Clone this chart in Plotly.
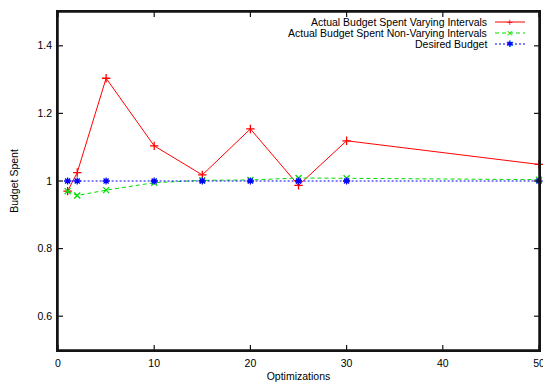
import plotly.graph_objects as go

optimizations = [1, 2, 5, 10, 15, 20, 25, 30, 50]
varying = [0.970, 1.025, 1.304, 1.104, 1.018, 1.154, 0.987, 1.119, 1.049]
non_varying = [0.970, 0.957, 0.973, 0.995, 1.002, 1.003, 1.009, 1.008, 1.004]
desired = [1.0, 1.0, 1.0, 1.0, 1.0, 1.0, 1.0, 1.0, 1.0]

series_names = ["Actual Budget Spent Varying Intervals",
                "Actual Budget Spent Non-Varying Intervals",
                "Desired Budget"]
colors = ["#ff0000", "#00dd00", "#0000ff"]
dashes = ["solid", "4px,3px", "2px,2px"]
symbols = ["cross-thin-open", "x-thin-open", "asterisk-open"]
legend_glyphs = ["+", "×", "✱"]

x_ticks = [0, 10, 20, 30, 40, 50]
y_ticks = [0.6, 0.8, 1.0, 1.2, 1.4]
y_tick_text = ["0.6", "0.8", "1", "1.2", "1.4"]

FONT = "Liberation Sans, Arial, Helvetica, sans-serif"
FRAME = "rgb(20,20,20)"

# plot-area geometry in pixels (for the hand-drawn gnuplot-style key)
L, R, T, B = 58, 539, 12, 350
W, H = R - L, B - T

def px_x(p):
    return (p - L) / W

def px_y(p):
    return (B - p) / H

fig = go.Figure()
for name, ys, c, d, s in zip(series_names, [varying, non_varying, desired], colors, dashes, symbols):
    fig.add_trace(go.Scatter(
        x=optimizations, y=ys, mode="lines+markers", name=name,
        line=dict(color=c, width=1, dash=d),
        marker=dict(symbol=s, size=6, color=c, line=dict(color=c, width=1.3)),
        showlegend=False, cliponaxis=False,
    ))

# frame
fig.add_shape(type="rect", xref="paper", yref="paper", x0=0, x1=1, y0=0, y1=1,
              line=dict(color=FRAME, width=1.5), layer="above")
# inward tick marks on all four sides
for xv in x_ticks:
    for anchor, sign in ((0, 1), (1, -1)):
        fig.add_shape(type="line", xref="x", yref="paper", ysizemode="pixel",
                      yanchor=anchor, x0=xv, x1=xv, y0=0, y1=5 * sign,
                      line=dict(color=FRAME, width=1.2), layer="above")
for yv in y_ticks:
    for anchor, sign in ((0, 1), (1, -1)):
        fig.add_shape(type="line", xref="paper", yref="y", xsizemode="pixel",
                      xanchor=anchor, y0=yv, y1=yv, x0=0, x1=5 * sign,
                      line=dict(color=FRAME, width=1.2), layer="above")

# key: text right-aligned, line sample on the right
for i, (name, c, d, g) in enumerate(zip(series_names, colors, dashes, legend_glyphs)):
    row = 22 + 11 * i
    fig.add_shape(type="line", xref="paper", yref="paper",
                  x0=px_x(495), x1=px_x(525), y0=px_y(row), y1=px_y(row),
                  line=dict(color=c, width=1, dash=d))
    fig.add_annotation(x=px_x(510), y=px_y(row), xref="paper", yref="paper", text=g,
                       showarrow=False, xanchor="center", yanchor="middle",
                       font=dict(size=9, color=c, family="DejaVu Sans"))
    fig.add_annotation(x=px_x(489), y=px_y(row), xref="paper", yref="paper", text=name,
                       showarrow=False, xanchor="right", yanchor="middle",
                       font=dict(size=10.5, color="black", family=FONT))

axis_common = dict(showline=True, linecolor=FRAME, linewidth=1.5, mirror=True,
                   ticks="", showgrid=False, zeroline=False, automargin=False,
                   ticklabeloverflow="allow",
                   tickfont=dict(size=10.5, color="black", family=FONT))

fig.update_layout(
    width=543, height=382,
    margin=dict(l=L, r=543 - R, t=T, b=382 - B),
    paper_bgcolor="white", plot_bgcolor="white",
    font=dict(family=FONT, size=10.5, color="black"),
    xaxis=dict(range=[0, 50], tickvals=x_ticks, ticklabelstandoff=3,
               title=dict(text="Optimizations", standoff=7, font=dict(size=10.5)),
               **axis_common),
    yaxis=dict(range=[0.5, 1.5], tickvals=y_ticks, ticktext=y_tick_text,
               ticklabelstandoff=2,
               title=dict(text="Budget Spent", standoff=17, font=dict(size=10.5)),
               **axis_common),
)

fig.write_html("out.html", config={"displayModeBar": False},
               post_script="document.body.style.margin='0';document.body.style.overflow='hidden';")
